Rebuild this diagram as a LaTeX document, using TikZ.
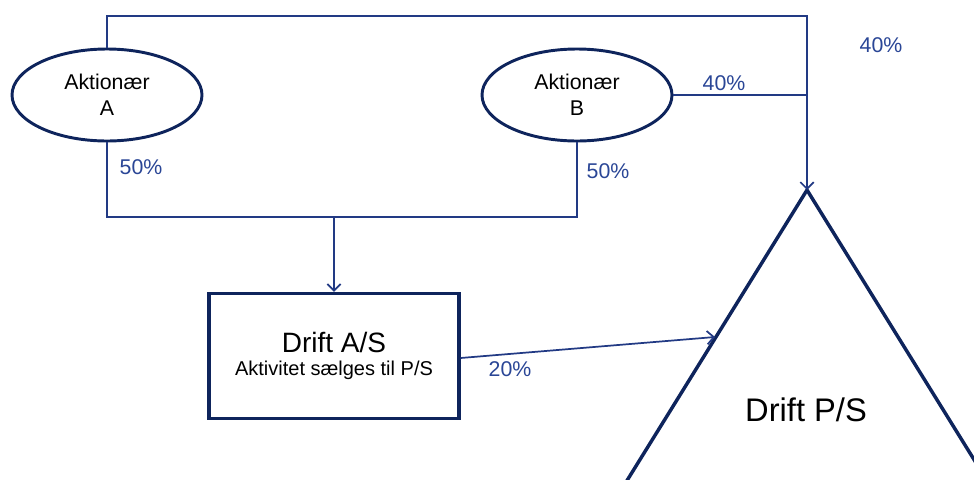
\documentclass[tikz,border=0pt]{standalone}
\usepackage{fontspec}
\setmainfont{Liberation Sans}
\usetikzlibrary{shapes.geometric,arrows.meta}
\definecolor{navy}{RGB}{14,36,92}
\definecolor{linje}{RGB}{34,58,132}
\definecolor{pct}{RGB}{42,70,150}
\begin{document}
\begin{tikzpicture}[x=0.75pt,y=-0.75pt,
  ejer/.style={draw=navy,line width=2.2pt,ellipse,minimum width=142.5pt,minimum height=69pt,
    inner sep=0pt,align=center,font=\fontsize{16}{19.5}\selectfont},
  pil/.style={draw=linje,line width=1.3pt},
  andel/.style={text=pct,font=\fontsize{16}{19}\selectfont,inner sep=0pt}]
\clip (0,0) rectangle (974,479);
\node[ejer] (A) at (107,95) {Aktionær\\A};
\node[ejer] (B) at (577,95) {Aktionær\\B};
\node[draw=navy,line width=2.4pt,minimum width=187.5pt,minimum height=93.75pt,align=center] (drift) at (334,356)
  {{\fontsize{21}{25}\selectfont Drift A/S}\\[5pt]{\fontsize{15}{18}\selectfont Aktivitet sælges til P/S}};
\coordinate (apex) at (807,190);
\coordinate (top) at (807,16);
\coordinate (mid) at (334,217);
\coordinate (side) at (715,337);
\draw[navy,line width=2.6pt,line join=miter] (553,600) -- (apex) -- (1061,600);
\node[font=\fontsize{24.5}{29}\selectfont] (ps) at (806,410) {Drift P/S};
\draw[pil,-{Straight Barb[length=5pt,width=10pt]}] (A.north) |- (top) -- (apex);
\draw[pil] (B.east) -- (B.east -| apex);
\draw[pil] (A.south) |- (mid) -| (B.south);
\draw[pil,-{Straight Barb[length=5pt,width=10pt]}] (mid) -- (drift.north);
\draw[pil,-{Straight Barb[length=5pt,width=10pt]}] (drift.east |- 0,358) -- (side);
\node[andel] (a1) at (141,167) {50\%};
\node[andel] (b1) at (608,171) {50\%};
\node[andel] (b2) at (724,83) {40\%};
\node[andel] (b3) at (881,45) {40\%};
\node[andel] (d1) at (510,369) {20\%};
\end{tikzpicture}
\end{document}
